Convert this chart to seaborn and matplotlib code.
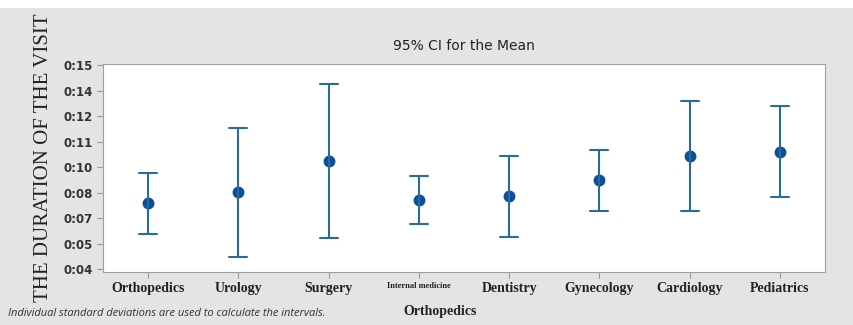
import numpy as np
import pandas as pd
import matplotlib
matplotlib.use("Agg")
import matplotlib.pyplot as plt
import seaborn as sns

# duration of the visit in minutes
departments = ['Orthopedics', 'Urology', 'Surgery', 'Internal medicine',
               'Dentistry', 'Gynecology', 'Cardiology', 'Pediatrics']
mean_min = [7.55, 8.15, 9.84, 7.75, 7.93, 8.80, 10.09, 10.31]
lower_min = [5.88, 4.63, 5.68, 6.45, 5.72, 7.12, 7.12, 7.88]
upper_min = [9.16, 11.62, 13.97, 9.00, 10.08, 10.42, 13.08, 12.80]

ytick_vals = [4, 5.375, 6.75, 8.125, 9.5, 10.875, 12.25, 13.625, 15]
ytick_labels = ['0:04', '0:05', '0:07', '0:08', '0:10', '0:11', '0:12', '0:14', '0:15']

# long table: low / mean / high per department, median gives the mean, min/max the CI
rows = []
for d, lo, m, hi in zip(departments, lower_min, mean_min, upper_min):
    for v in (lo, m, hi):
        rows.append({'dept': d, 'minutes': v})
df = pd.DataFrame(rows)

sns.set_style("white")
bg = '#e4e4e4'
fig = plt.figure(figsize=(8.54, 3.25), dpi=100, facecolor=bg)
ax = fig.add_axes([103 / 854, 1 - 272 / 325, 722 / 854, 208 / 325])
ax.set_facecolor('white')

sns.pointplot(data=df, x='dept', y='minutes', order=departments,
              estimator='median', errorbar=lambda v: (v.min(), v.max()),
              linestyle='none', color='#0b4f9c', markers='o', markersize=6.5,
              capsize=0.2, err_kws={'color': '#2c6a99', 'linewidth': 1.5},
              ax=ax)

ax.set_xlim(-0.5, 7.5)
ax.set_ylim(3.84, 15.06)
ax.set_yticks(ytick_vals)
ax.set_yticklabels(ytick_labels, fontsize=8.5, fontweight='bold', color='#333333',
                   family='DejaVu Sans')
ax.tick_params(axis='both', length=4, color='#999999', direction='out',
               left=True, bottom=True)
ax.set_xticks(range(len(departments)))
ax.set_xticklabels(departments, family='Liberation Serif', fontweight='bold',
                   fontsize=10, color='#222222')
ax.get_xticklabels()[3].set_fontsize(6)
for s in ax.spines.values():
    s.set_color('#a0a0a0')
    s.set_linewidth(0.8)

ax.set_ylabel('THE DURATION OF THE VISIT', family='Liberation Serif',
              fontsize=15, color='#222222')
ax.yaxis.set_label_coords(-0.069, 0.55)
ax.set_xlabel('')
fig.text(440 / 854, 1 - 312 / 325, 'Orthopedics', family='Liberation Serif',
         fontweight='bold', fontsize=10, ha='center', va='center', color='#222222')
fig.text(464 / 854, 1 - 46 / 325, '95% CI for the Mean', fontsize=10,
         ha='center', va='center', color='#222222')
fig.text(8 / 854, 1 - 314 / 325,
         'Individual standard deviations are used to calculate the intervals.',
         fontsize=8, style='italic', ha='left', va='center', color='#333333',
         family='Open Sans')

# white strip along the top edge
fig.patches.append(plt.Rectangle((0, 1 - 8 / 325), 1, 8 / 325, transform=fig.transFigure,
                                 facecolor='white', edgecolor='none', zorder=-1))

fig.savefig('out.png', dpi=100, facecolor=bg)
